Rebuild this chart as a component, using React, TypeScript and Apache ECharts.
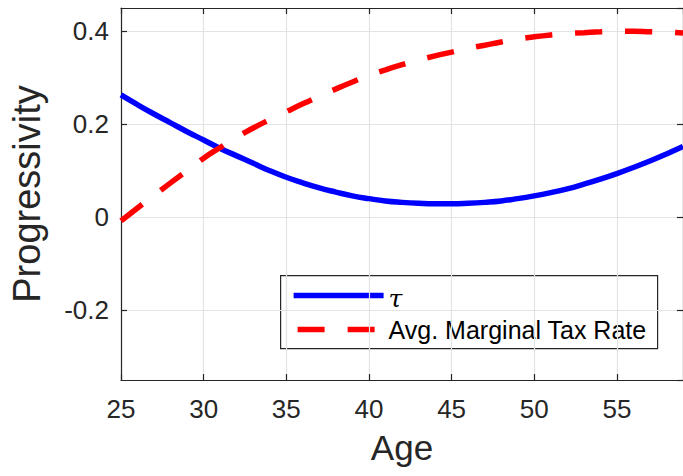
import React, { useEffect, useRef } from "react";
import * as echarts from "echarts";

// Age grid (years) and the two age profiles
const ages = [
  25, 26, 27, 28, 29, 30, 31, 32, 33, 34, 35, 36, 37, 38, 39, 40, 41, 42,
  43, 44, 45, 46, 47, 48, 49, 50, 51, 52, 53, 54, 55, 56, 57, 58, 59,
];

const tau = [
  0.263, 0.242, 0.222, 0.203, 0.184, 0.166, 0.148, 0.132, 0.116, 0.1, 0.086,
  0.074, 0.063, 0.054, 0.046, 0.04, 0.035, 0.032, 0.03, 0.029, 0.029, 0.03,
  0.032, 0.035, 0.04, 0.046, 0.053, 0.061, 0.071, 0.082, 0.094, 0.107, 0.121,
  0.136, 0.152,
];

const avgMarginalTaxRate = [
  -0.008, 0.02, 0.047, 0.074, 0.1, 0.127, 0.15, 0.172, 0.192, 0.21, 0.227,
  0.244, 0.26, 0.276, 0.291, 0.305, 0.317, 0.328, 0.338, 0.347, 0.355, 0.363,
  0.37, 0.377, 0.383, 0.388, 0.392, 0.395, 0.397, 0.399, 0.4, 0.4, 0.399,
  0.398, 0.396,
];

const seriesNames = ["τ", "Avg. Marginal Tax Rate"];
const xTitle = "Age";
const yTitle = "Progressivity";

const FONT = "'Liberation Sans', Arial, Helvetica, sans-serif";
const AXIS_COLOR = "#262626";
const GRID_COLOR = "#e3e3e3";
const BLUE = "#0000ff";
const RED = "#ff0000";
const DASH = [27, 23];
const LINE_W = 5.5;

export default function App() {
  const ref = useRef<HTMLDivElement>(null);

  useEffect(() => {
    if (!ref.current) return;
    const chart = echarts.init(ref.current, undefined, { renderer: "svg" });

    const tickLabel = { color: AXIS_COLOR, fontSize: 26, fontFamily: FONT };
    const axisLine = { show: true, onZero: false, lineStyle: { color: AXIS_COLOR, width: 1.2 } };
    const axisTick = { show: true, inside: true, length: 6, lineStyle: { color: AXIS_COLOR, width: 1.2 } };

    chart.setOption({
      animation: false,
      backgroundColor: "#ffffff",
      grid: { left: 119.5, right: -4.5, top: 8, bottom: 96, containLabel: false },
      xAxis: [
        {
          type: "value",
          min: 25,
          max: 59,
          interval: 5,
          position: "bottom",
          axisLine,
          axisTick,
          axisLabel: { ...tickLabel, margin: 16, showMaxLabel: false },
          splitLine: { show: true, lineStyle: { color: GRID_COLOR, width: 1.2 } },
          name: xTitle,
          nameLocation: "middle",
          nameGap: 50,
          nameTextStyle: { color: AXIS_COLOR, fontSize: 35, fontFamily: FONT },
        },
        {
          type: "value",
          min: 25,
          max: 59,
          interval: 5,
          position: "top",
          axisLine,
          axisTick,
          axisLabel: { show: false },
          splitLine: { show: false },
        },
      ],
      yAxis: [
        {
          type: "value",
          min: -0.35,
          max: 0.45,
          splitNumber: 4,
          position: "left",
          axisLine,
          axisTick,
          axisLabel: {
            ...tickLabel,
            margin: 12,
            showMinLabel: false,
            showMaxLabel: false,
            formatter: (v: number) => (Math.abs(v) < 1e-9 ? "0" : String(Math.round(v * 10) / 10)),
          },
          splitLine: { show: true, lineStyle: { color: GRID_COLOR, width: 1.2 } },
          name: yTitle,
          nameLocation: "middle",
          nameGap: 75,
          nameTextStyle: { color: AXIS_COLOR, fontSize: 38, fontFamily: FONT },
        },
        {
          type: "value",
          min: -0.35,
          max: 0.45,
          splitNumber: 4,
          position: "right",
          axisLine,
          axisTick,
          axisLabel: { show: false },
          splitLine: { show: false },
        },
      ],
      series: [
        {
          name: seriesNames[0],
          type: "line",
          data: ages.map((a, i) => [a, tau[i]]),
          showSymbol: false,
          symbol: "none",
          smooth: true,
          lineStyle: { color: BLUE, width: LINE_W, cap: "butt" },
          z: 3,
        },
        {
          name: seriesNames[1],
          type: "line",
          data: ages.map((a, i) => [a, avgMarginalTaxRate[i]]),
          showSymbol: false,
          symbol: "none",
          smooth: true,
          lineStyle: { color: RED, width: LINE_W, type: DASH, cap: "butt" },
          z: 4,
        },
      ],
      graphic: [
        {
          type: "group",
          left: 280,
          top: 275,
          z: 100,
          children: [
            {
              type: "rect",
              shape: { x: 0, y: 0, width: 377, height: 73 },
              style: { fill: "#ffffff", stroke: AXIS_COLOR, lineWidth: 1.2 },
            },
            {
              type: "line",
              shape: { x1: 13, y1: 20, x2: 103, y2: 20 },
              style: { stroke: BLUE, lineWidth: LINE_W },
            },
            {
              type: "text",
              x: 108,
              y: 23,
              style: {
                text: seriesNames[0],
                font: `italic 25px 'DejaVu Serif', serif`,
                fill: "#000000",
                verticalAlign: "middle",
              },
            },
            {
              type: "line",
              shape: { x1: 17, y1: 54, x2: 100, y2: 54 },
              style: { stroke: RED, lineWidth: LINE_W, lineDash: DASH },
            },
            {
              type: "text",
              x: 108,
              y: 54,
              style: {
                text: seriesNames[1],
                font: `25px ${FONT}`,
                fill: "#000000",
                verticalAlign: "middle",
              },
            },
          ],
        },
      ],
    });

    return () => chart.dispose();
  }, []);

  return (
    <div
      ref={ref}
      style={{ position: "fixed", left: 0, top: 0, width: 683, height: 476 }}
    />
  );
}
